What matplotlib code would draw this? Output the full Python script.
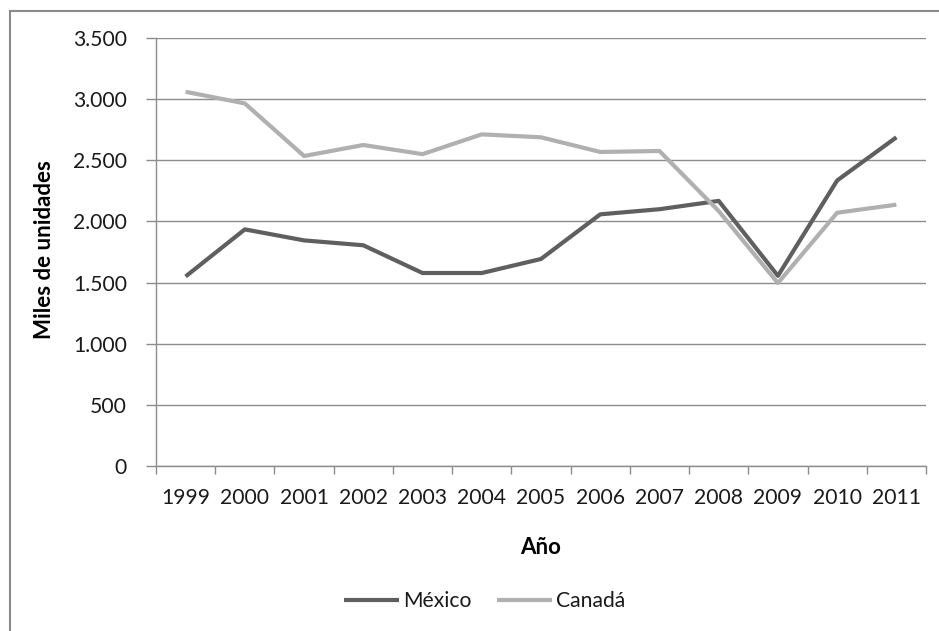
import matplotlib
matplotlib.use("Agg")
import matplotlib.pyplot as plt
from matplotlib.ticker import FuncFormatter, FixedLocator
from matplotlib.patches import Rectangle

years = ["1999", "2000", "2001", "2002", "2003", "2004", "2005",
         "2006", "2007", "2008", "2009", "2010", "2011"]
mexico = [1550, 1935, 1845, 1805, 1578, 1578, 1693,
          2058, 2100, 2168, 1555, 2335, 2688]
canada = [3060, 2965, 2535, 2625, 2550, 2712, 2688,
          2568, 2576, 2085, 1496, 2071, 2137]
y_ticks = [0, 500, 1000, 1500, 2000, 2500, 3000, 3500]

plt.rcParams["font.family"] = ["Lato", "DejaVu Sans"]

W, H = 939, 631
fig = plt.figure(figsize=(W / 100, H / 100), dpi=100)
fig.patch.set_facecolor("white")

# outer chart frame (top/left edges visible)
fig.patches.append(Rectangle((10 / W, -0.05), 1.2, 1 - 11 / H + 0.05,
                             transform=fig.transFigure, fill=False,
                             edgecolor="#8a8a8a", linewidth=1.5))

ax = fig.add_axes([156 / W, 1 - 466 / H, (926 - 156) / W, (466 - 38) / H])
x = list(range(len(years)))

ax.plot(x, mexico, color="#5f5f5f", linewidth=3.0, label="México",
        solid_joinstyle="round", solid_capstyle="butt", zorder=3)
ax.plot(x, canada, color="#b0b0b0", linewidth=3.0, label="Canadá",
        solid_joinstyle="round", solid_capstyle="butt", zorder=3)

ax.set_xlim(-0.5, len(years) - 0.5)
ax.set_ylim(0, 3500)

grid_c = "#8c8c8c"
ax.set_yticks(y_ticks)
ax.yaxis.set_major_formatter(FuncFormatter(lambda v, p: f"{int(v):,}".replace(",", ".")))
ax.grid(axis="y", color=grid_c, linewidth=1.0, zorder=0)
ax.set_axisbelow(True)

ax.set_xticks(x)
ax.set_xticklabels(years)
ax.xaxis.set_minor_locator(FixedLocator([i - 0.5 for i in range(len(years) + 1)]))
ax.tick_params(axis="x", which="major", length=0, pad=16, labelsize=15.2, colors="#1a1a1a")
ax.tick_params(axis="x", which="minor", length=6, width=1, color=grid_c)
ax.tick_params(axis="y", which="major", length=7, width=1, color=grid_c, pad=14,
               labelsize=15.2, labelcolor="#1a1a1a")

for side in ["top", "right"]:
    ax.spines[side].set_visible(False)
for side in ["left", "bottom"]:
    ax.spines[side].set_color(grid_c)
    ax.spines[side].set_linewidth(1.0)

fig.text(45 / W, 1 - 250 / H, "Miles de unidades", rotation=90, ha="center",
         va="center", fontsize=16, fontweight="bold", color="#000000")
fig.text(541 / W, 1 - 548 / H, "Año", ha="center", va="center",
         fontsize=16, fontweight="bold", color="#000000")

leg = fig.legend(loc="center", bbox_to_anchor=(485 / W, 1 - 601 / H), ncol=2,
                 frameon=False, fontsize=15.2, handlelength=2.6, handletextpad=0.2,
                 columnspacing=1.2)
for t in leg.get_texts():
    t.set_color("#1a1a1a")

fig.savefig("out.png", dpi=100, facecolor="white")
